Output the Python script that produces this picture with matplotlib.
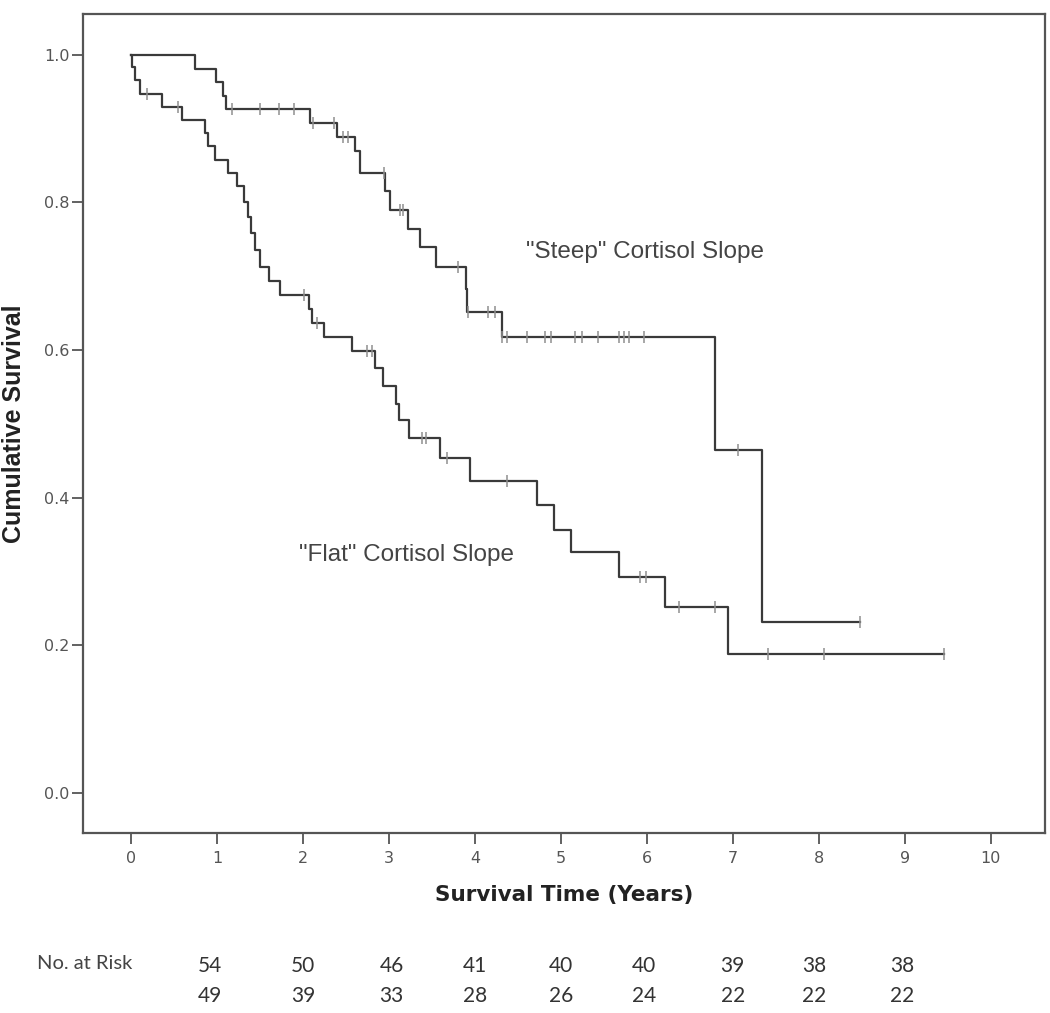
import numpy as np
import matplotlib
matplotlib.use("Agg")
from matplotlib import pyplot as plt
from matplotlib import font_manager

# Kaplan-Meier curves
steep_time = [0, 0.74, 0.99, 1.07, 1.11, 2.08, 2.40, 2.60, 2.66, 2.95, 3.01,
              3.22, 3.36, 3.55, 3.90, 3.91, 4.31, 6.79, 7.34]
steep_surv = [1.0, 0.981, 0.963, 0.944, 0.926, 0.907, 0.889, 0.870, 0.840, 0.815,
              0.790, 0.764, 0.740, 0.712, 0.683, 0.652, 0.618, 0.465, 0.232]
steep_end = 8.48
steep_cens = [1.17, 1.50, 1.72, 1.90, 2.12, 2.36, 2.46, 2.52, 2.94, 3.13, 3.16,
              3.80, 3.92, 4.15, 4.23, 4.32, 4.37, 4.61, 4.81, 4.88, 5.17, 5.25,
              5.43, 5.68, 5.74, 5.79, 5.97, 7.06, 8.48]

flat_time = [0, 0.01, 0.05, 0.10, 0.36, 0.59, 0.86, 0.90, 0.98, 1.13, 1.23, 1.31,
             1.36, 1.40, 1.44, 1.50, 1.60, 1.73, 2.07, 2.10, 2.25, 2.57, 2.84,
             2.93, 3.08, 3.12, 3.23, 3.59, 3.94, 4.72, 4.92, 5.12, 5.68, 6.21, 6.94]
flat_surv = [1.0, 0.984, 0.966, 0.947, 0.929, 0.911, 0.894, 0.876, 0.858, 0.840,
             0.822, 0.801, 0.780, 0.758, 0.735, 0.713, 0.693, 0.675, 0.655, 0.637,
             0.617, 0.598, 0.575, 0.551, 0.527, 0.505, 0.481, 0.453, 0.422, 0.390,
             0.356, 0.326, 0.292, 0.252, 0.188]
flat_end = 9.46
flat_cens = [0.19, 0.55, 2.01, 2.16, 2.74, 2.80, 3.39, 3.43, 3.68, 4.37, 5.92,
             5.99, 6.37, 6.79, 7.41, 8.06, 9.46]

risk_times = [0.92, 2, 3.03, 4, 5, 5.97, 7, 7.95, 8.97]
risk_steep = [54, 50, 46, 41, 40, 40, 39, 38, 38]
risk_flat = [49, 39, 33, 28, 26, 24, 22, 22, 22]


have = {f.name for f in font_manager.fontManager.ttflist}


def pick(names):
    for n in names:
        if n in have:
            return n
    return "DejaVu Sans"


arial = pick(["Liberation Sans", "Arial"])
calib = pick(["Lato", "Open Sans"])

line_col = "#3a3a3a"
cens_col = "#909090"

fig = plt.figure(figsize=(10.5, 10.13), dpi=100)
ax = fig.add_axes([0.079, 0.178, 0.916, 0.808])


def draw(times, surv, end, cens):
    t = np.array(times + [end])
    s = np.array(surv + [surv[-1]])
    ax.step(t, s, where="post", color=line_col, lw=1.6, zorder=3)
    c = np.array(cens)
    idx = np.searchsorted(np.array(times), c, side="right") - 1
    ax.plot(c, np.array(surv)[idx], ls="none", marker="|", ms=8, mew=1.1,
            color=cens_col, zorder=4)


draw(steep_time, steep_surv, steep_end, steep_cens)
draw(flat_time, flat_surv, flat_end, flat_cens)

ax.set_xlim(-0.56, 10.63)
ax.set_ylim(-0.054, 1.055)
ax.set_xticks(range(0, 11))
ax.set_yticks([0.0, 0.2, 0.4, 0.6, 0.8, 1.0])
ax.set_yticklabels(["0.0", "0.2", "0.4", "0.6", "0.8", "1.0"])
ax.tick_params(direction="out", length=8, width=1.3, color="#555555",
               labelcolor="#555555", labelsize=11.5)
ax.tick_params(axis="y", pad=1.5)
ax.tick_params(axis="x", pad=5)
for lab in ax.get_xticklabels() + ax.get_yticklabels():
    lab.set_family("DejaVu Sans")
for sp in ax.spines.values():
    sp.set_color("#555555")
    sp.set_linewidth(1.6)

ax.set_ylabel("Cumulative Survival", family=arial, fontweight="bold",
              fontsize=18, color="#222222", labelpad=13)
ax.set_xlabel("Survival Time (Years)", family="DejaVu Sans", fontweight="bold",
              fontsize=15.5, color="#222222", labelpad=14)

ax.text(5.98, 0.733, '"Steep" Cortisol Slope', family=arial, fontsize=17.5,
        color="#444444", ha="center", va="center")
ax.text(3.20, 0.322, '"Flat" Cortisol Slope', family=arial, fontsize=17.5,
        color="#444444", ha="center", va="center")

# number at risk table below the axis
tr = matplotlib.transforms.blended_transform_factory(ax.transData, fig.transFigure)
fig.text(37 / 1050, 1 - 963 / 1013, "No. at Risk", family=calib, fontsize=14.5,
         color="#444444", ha="left", va="center")
for x, a, b in zip(risk_times, risk_steep, risk_flat):
    ax.text(x, 1 - 966 / 1013, str(a), transform=tr, family=calib, fontsize=15,
            color="#333333", ha="center", va="center")
    ax.text(x, 1 - 996 / 1013, str(b), transform=tr, family=calib, fontsize=15,
            color="#333333", ha="center", va="center")

fig.savefig("out.png", dpi=100)
